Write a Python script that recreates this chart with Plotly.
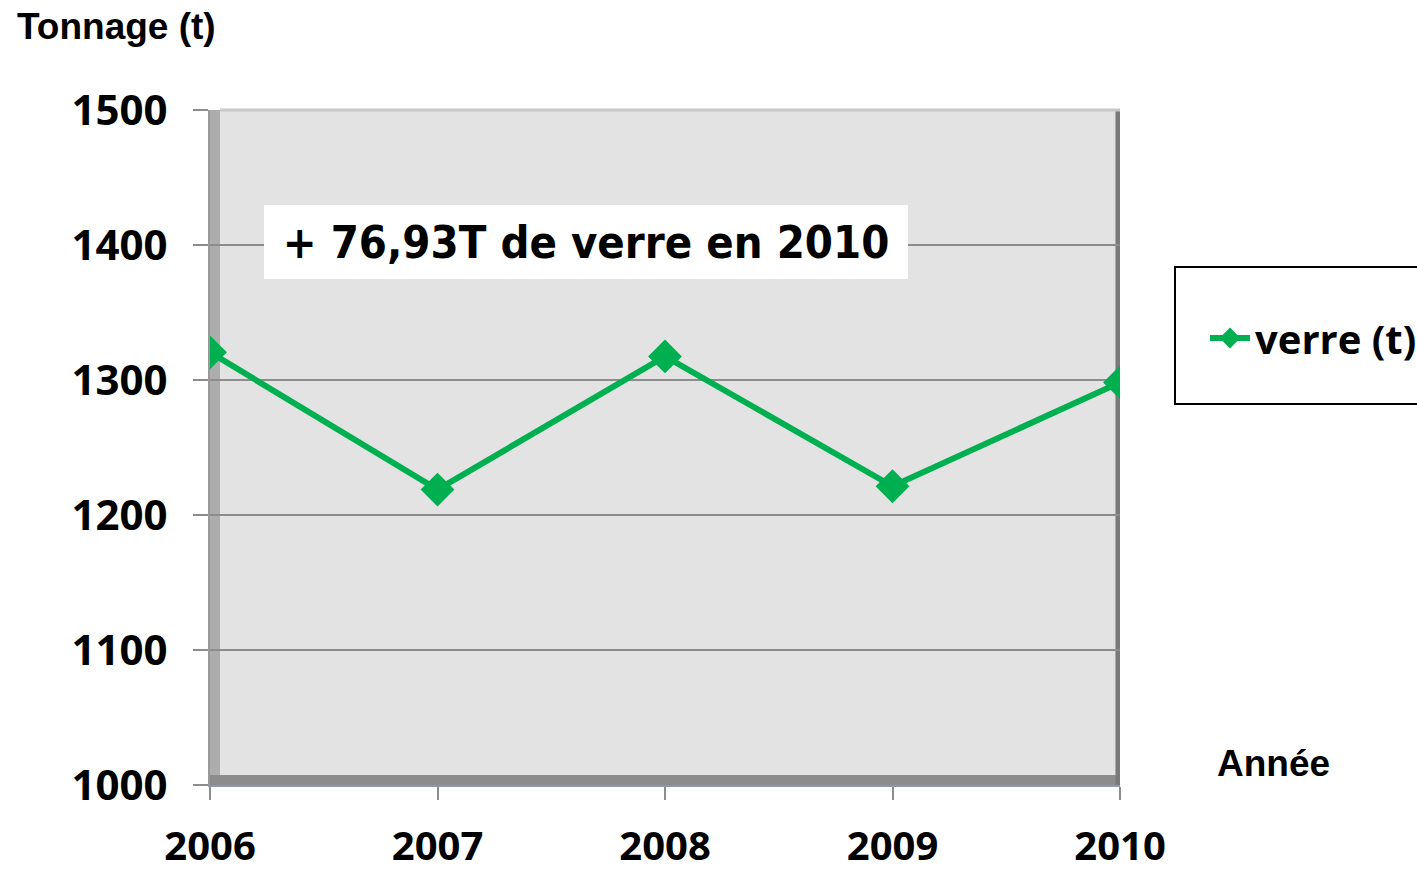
import plotly.graph_objects as go

years = ["2006", "2007", "2008", "2009", "2010"]
verre = [1320.5, 1218.8, 1317.5, 1221.3, 1298.2]
y_ticks = [1000, 1100, 1200, 1300, 1400, 1500]
series_name = "verre (t)"
annotation_text = "+ 76,93T de verre en 2010"

GREEN = "#00B050"
YTICKFONT = dict(family="Open Sans", size=42, color="black", weight="bold")
XTICKFONT = dict(family="Open Sans", size=40, color="black", weight="bold")

fig = go.Figure()
fig.add_trace(go.Scatter(
    x=list(range(len(years))), y=verre, name=series_name,
    mode="lines+markers",
    line=dict(color=GREEN, width=6),
    marker=dict(symbol="diamond", size=26, color=GREEN),
))

W, H = 1417, 871
ml, mt = 210, 110
pw, ph = 910, 675
mr = W - ml - pw
mb = H - mt - ph

def px(x):  # page pixel x -> paper
    return (x - ml) / pw

def py(y):  # page pixel y -> paper
    return (mt + ph - y) / ph

fig.update_layout(
    width=W, height=H,
    margin=dict(l=ml, r=mr, t=mt, b=mb, autoexpand=False),
    paper_bgcolor="white", plot_bgcolor="#E3E3E3",
    showlegend=True,
    legend=dict(x=px(1205), y=py(338), xanchor="left", yanchor="middle",
                bgcolor="rgba(0,0,0,0)", borderwidth=0,
                font=dict(family="Open Sans", size=40, color="black", weight="bold"),
                itemwidth=40),
    xaxis=dict(
        range=[0, len(years) - 1],
        tickvals=list(range(len(years))), ticktext=years,
        tickfont=XTICKFONT, ticks="outside", ticklen=13, tickcolor="#8C8C8C", tickwidth=2,
        ticklabelstandoff=12,
        showgrid=False, zeroline=False,
        showline=True, linecolor="#8C99A6", linewidth=2,
    ),
    yaxis=dict(
        range=[1000, 1500], tickvals=y_ticks,
        tickfont=YTICKFONT, ticks="outside", ticklen=15, tickcolor="#8C8C8C", tickwidth=2,
        ticklabelstandoff=17,
        showgrid=True, gridcolor="#8C8C8C", gridwidth=2,
        zeroline=False, showline=True, linecolor="#999999", linewidth=2,
    ),
    font=dict(family="Open Sans", color="black"),
)

# 3D-style wall, floor, and right edge of the chart area
fig.add_shape(type="rect", xref="x domain", yref="y domain", x0=0, x1=0.011, y0=0, y1=1,
              fillcolor="#ADADAD", line=dict(width=0), layer="below")
fig.add_shape(type="rect", xref="x domain", yref="y domain", x0=0, x1=1, y0=0, y1=0.015,
              fillcolor="#8C8C8C", line=dict(width=0), layer="below")
fig.add_shape(type="rect", xref="x domain", yref="y domain", x0=0.995, x1=1, y0=0, y1=1,
              fillcolor="#7A7A7A", line=dict(width=0), layer="below")
fig.add_shape(type="line", xref="x domain", yref="y domain", x0=0.011, x1=1, y0=1, y1=1,
              line=dict(color="#C8C8C8", width=3), layer="below")

# legend box
fig.add_shape(type="rect", xref="paper", yref="paper",
              x0=px(1175), x1=px(1440), y0=py(404), y1=py(267),
              line=dict(color="black", width=2), fillcolor="rgba(0,0,0,0)")

# annotation box
fig.add_annotation(
    xref="paper", yref="paper", x=px(586), y=py(242),
    xanchor="center", yanchor="middle",
    text=annotation_text, showarrow=False,
    font=dict(family="DejaVu Sans Condensed", size=45, color="black", weight="bold"),
    bgcolor="white", borderpad=8, borderwidth=0, width=628, height=58,
)

# axis titles
fig.add_annotation(xref="paper", yref="paper", x=px(15), y=py(26),
                   xanchor="left", yanchor="middle", showarrow=False,
                   text="<b>Tonnage (t)</b>",
                   font=dict(family="Liberation Sans", size=37, color="black"))
fig.add_annotation(xref="paper", yref="paper", x=px(1215), y=py(763),
                   xanchor="left", yanchor="middle", showarrow=False,
                   text="<b>Année</b>",
                   font=dict(family="Liberation Sans", size=37, color="black"))

fig.write_html("out.html", config={"displayModeBar": False},
               post_script="document.body.style.margin='0';")
